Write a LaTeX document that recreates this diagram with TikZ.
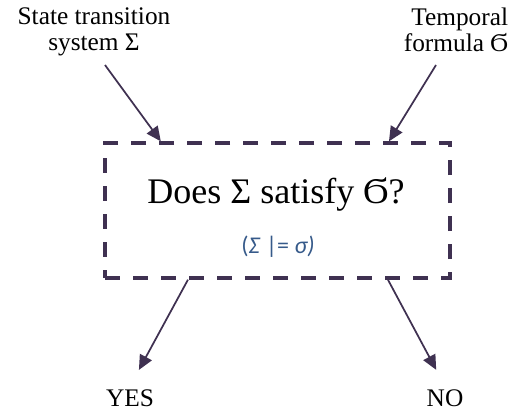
\documentclass[tikz,border=0pt]{standalone}
\usepackage{fontspec}
\setmainfont{Liberation Serif}
\newfontfamily\subfont{Carlito}
\usetikzlibrary{arrows.meta,positioning,calc}
\definecolor{edgecol}{HTML}{3F3151}
\definecolor{subcol}{HTML}{365A8A}

\begin{document}
\begin{tikzpicture}[x=0.75pt, y=-0.75pt,
    every node/.style={font=\rmfamily\fontsize{19}{19.5}\selectfont, inner sep=2pt},
    arr/.style={-{Triangle[length=11pt,width=10pt]}, line width=1.3pt, edgecol},
    qbox/.style={draw=edgecol, line width=2.5pt, dash pattern=on 11pt off 10pt,
      minimum width=258.75pt, minimum height=101.25pt}]
  \useasboundingbox (0,0) rectangle (523,415);
  % question box
  \node[qbox] (q) at (277.5,210.5) {};
  \node[anchor=base, font=\rmfamily\fontsize{27}{27}\selectfont] (ask) at (276,203)
    {Does Σ satisfy Ϭ?};
  \node[anchor=base, text=subcol, font=\subfont\fontsize{18}{18}\selectfont] (rel) at (278,253)
    {(\textit{Σ} |= \textit{σ)}};
  % inputs
  \node[align=center, anchor=north] (sys) at (94,5) {State transition\\system Σ};
  \node[align=right, anchor=north east] (form) at (511,5) {Temporal\\formula Ϭ};
  % answers
  \node[anchor=base] (yes) at (130,406) {YES};
  \node[anchor=base] (no) at (445,406) {NO};
  % arrows
  \coordinate (sysout) at (105,65);
  \coordinate (formout) at (436,65);
  \draw[arr] (sysout) -- ($(q.north west)!0.165!(q.north east)$);
  \draw[arr] (formout) -- ($(q.north west)!0.82!(q.north east)$);
  \draw[arr, shorten >=14pt] ($(q.south west)!0.243!(q.south east)$) -- (yes.north);
  \draw[arr, shorten >=14pt] ($(q.south west)!0.817!(q.south east)$) -- (no.north);
\end{tikzpicture}
\end{document}
